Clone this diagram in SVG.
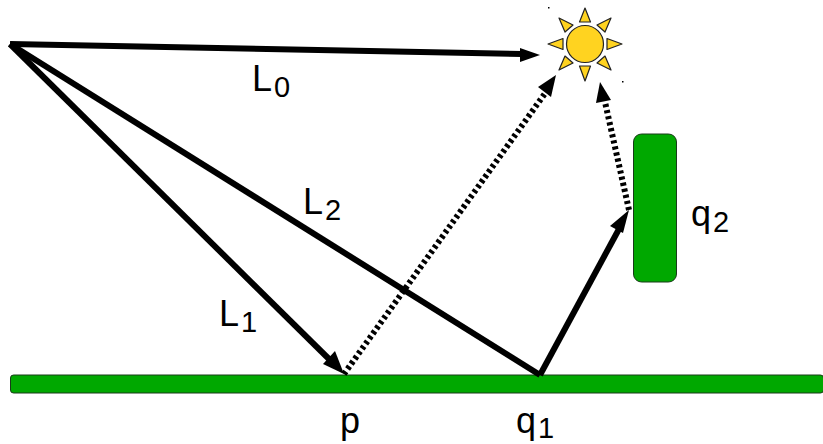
<svg xmlns="http://www.w3.org/2000/svg" width="823" height="444" viewBox="0 0 823 444">
<style>
text{font-family:"Liberation Sans",Arial,sans-serif;font-size:36px;fill:#000}
.sub{font-size:29px}
.slab{fill:#00a800;stroke:#1a3a1a;stroke-width:1}
.ray{fill:#ffd320;stroke:#222;stroke-width:1.2;stroke-linejoin:round}
.c{fill:none;stroke:#000;stroke-width:6}
.d{fill:none;stroke:#000;stroke-width:6;stroke-dasharray:3.200 3}
.h{fill:#000;stroke:none}
</style>
<rect width="823" height="444" fill="#fff"/>
<g id="floor"><rect class="slab" x="10.500" y="375" width="813" height="18" rx="3"/></g>
<g id="wall"><rect class="slab" x="633.500" y="134" width="43" height="148" rx="8"/></g>
<g id="sun">
<circle cx="585" cy="44" r="18.500" fill="#ffd320" stroke="#222" stroke-width="1.2"/>
<polygon class="ray" points="585,8 579.500,22 590.500,22"/>
<polygon class="ray" points="585,81 579.500,66 590.500,66"/>
<polygon class="ray" points="548,44 563,38.500 563,49.500"/>
<polygon class="ray" points="622,44 607,38.500 607,49.500"/>
<polygon class="ray" points="559,18 573,25 565,32"/>
<polygon class="ray" points="611,18 597,25 605,32"/>
<polygon class="ray" points="559,70 565,56 573,63"/>
<polygon class="ray" points="611,70 605,56 597,63"/>
<rect x="548" y="7" width="1.500" height="1.500" fill="#000"/>
<rect x="622" y="81" width="1.500" height="1.500" fill="#000"/>
</g>
<g id="connectors">
<path class="c" d="M10 44L522 54"/>
<polygon class="h" points="540,55 520,48 520,62"/>
<path class="c" d="M10 44L330 360"/>
<polygon class="h" points="344,374 335,351 323,364"/>
<path class="c" d="M10 44L540 375"/>
<path class="c" d="M540 375L619 229"/>
<polygon class="h" points="629,210 610,226 623,233"/>
<path class="d" d="M344 374L546 92"/>
<polygon class="h" points="556,75 538,87 551,97"/>
<path class="d" d="M629 210L605 102"/>
<polygon class="h" points="600,82 596,103 611,100"/>
</g>
<g id="labels">
<text x="252" y="91">L<tspan class="sub" dx="2" dy="6">0</tspan></text>
<text x="303" y="214">L<tspan class="sub" dx="2" dy="6">2</tspan></text>
<text x="219" y="326">L<tspan class="sub" dx="2" dy="6">1</tspan></text>
<text x="340" y="433">p</text>
<text x="516" y="433">q<tspan class="sub" dx="2" dy="4.500">1</tspan></text>
<text x="691" y="226">q<tspan class="sub" dx="2" dy="6">2</tspan></text>
</g>
</svg>
